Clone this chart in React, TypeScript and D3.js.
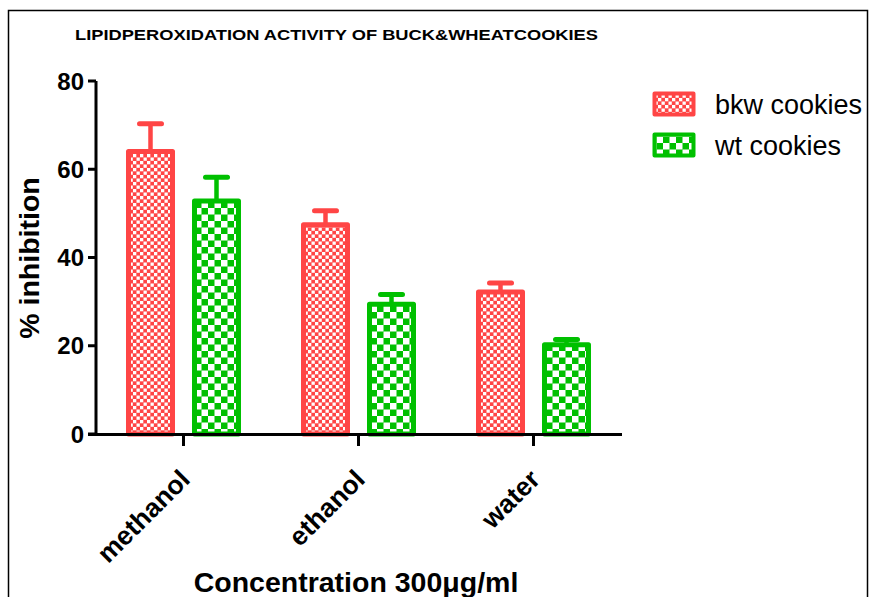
import React from "react";
import * as d3 from "d3";

const categories = ["methanol", "ethanol", "water"];
const seriesNames = ["bkw cookies", "wt cookies"];
const bkwValues = [64.0, 47.4, 32.2];
const bkwErrors = [6.3, 3.2, 2.0];
const wtValues = [52.8, 29.4, 20.2];
const wtErrors = [5.4, 2.2, 1.2];
const yTicks = [0, 20, 40, 60, 80];
const colors = ["#ff4545", "#00c000"];
const patterns = ["pRed", "pGreen"];

const FONT = "'Liberation Sans', Arial, Helvetica, sans-serif";

export default function App() {
  const x0 = d3.scaleBand<string>().domain(categories).range([96, 621]).padding(0);
  const x1 = d3
    .scaleBand<string>()
    .domain(seriesNames)
    .range([21.5, 153.5])
    .paddingInner(1 / 3)
    .paddingOuter(1 / 6);
  const y = d3.scaleLinear().domain([0, 80]).range([434, 81]);

  const data = [
    { name: seriesNames[0], values: bkwValues, errs: bkwErrors },
    { name: seriesNames[1], values: wtValues, errs: wtErrors },
  ];

  const bw = x1.bandwidth();

  return (
    <svg
      width={869}
      height={597}
      style={{ position: "absolute", left: 0, top: 0, background: "#fff" }}
      fontFamily={FONT}
    >
      <defs>
        <pattern id="pRed" width={7} height={7} patternUnits="userSpaceOnUse">
          <rect width={7} height={7} fill={colors[0]} />
          <rect x={0} y={0} width={3.3} height={3.3} fill="#fff" />
          <rect x={3.5} y={3.5} width={3.3} height={3.3} fill="#fff" />
        </pattern>
        <pattern id="pGreen" width={13} height={13} patternUnits="userSpaceOnUse">
          <rect width={13} height={13} fill={colors[1]} />
          <rect x={0} y={0} width={6.5} height={6.5} fill="#fff" />
          <rect x={6.5} y={6.5} width={6.5} height={6.5} fill="#fff" />
        </pattern>
      </defs>
      <rect x={8.5} y={10.5} width={859} height={600} fill="none" stroke="#000" strokeWidth={1.5} />

      <text x={75} y={40} fontSize={15.5} fontWeight="bold" textLength={523} lengthAdjust="spacingAndGlyphs">
        LIPIDPEROXIDATION ACTIVITY OF BUCK&amp;WHEATCOOKIES
      </text>

      {data.map((s, si) => (
        <g key={s.name}>
          {categories.map((c, ci) => {
            const cx = (x0(c) as number) + (x1(s.name) as number) + bw / 2;
            const v = s.values[ci];
            const e = v + s.errs[ci];
            return (
              <g key={c}>
                <line
                  x1={cx}
                  x2={cx}
                  y1={y(v)}
                  y2={y(e)}
                  stroke={colors[si]}
                  strokeWidth={4.5}
                />
                <line
                  x1={cx - 11}
                  x2={cx + 11}
                  y1={y(e)}
                  y2={y(e)}
                  stroke={colors[si]}
                  strokeWidth={5}
                  strokeLinecap="round"
                />
                <rect
                  x={cx - bw / 2}
                  y={y(v)}
                  width={bw}
                  height={y(0) - y(v)}
                  fill={`url(#${patterns[si]})`}
                  stroke={colors[si]}
                  strokeWidth={5}
                  strokeLinejoin="round"
                />
              </g>
            );
          })}
        </g>
      ))}

      {/* y axis */}
      <line x1={96} x2={96} y1={y(80)} y2={y(0) + 1.5} stroke="#000" strokeWidth={3} />
      {yTicks.map((t) => (
        <g key={t}>
          <line x1={88} x2={96} y1={y(t)} y2={y(t)} stroke="#000" strokeWidth={3} />
          <text x={84} y={y(t)} dy="0.36em" textAnchor="end" fontSize={24} fontWeight="bold">
            {t}
          </text>
        </g>
      ))}
      {/* x axis */}
      <line x1={88} x2={622} y1={y(0) + 0.5} y2={y(0) + 0.5} stroke="#000" strokeWidth={3} />
      {categories.map((c) => {
        const cx = (x0(c) as number) + x0.bandwidth() / 2;
        return (
          <g key={c}>
            <line x1={cx} x2={cx} y1={434} y2={446} stroke="#000" strokeWidth={3} />
            <text
              transform={`translate(${cx + 8},${481}) rotate(-45)`}
              textAnchor="end"
              fontSize={26.5}
              fontWeight="bold"
            >
              {c}
            </text>
          </g>
        );
      })}

      <text
        transform={`translate(39,258) rotate(-90)`}
        textAnchor="middle"
        fontSize={28.5}
        fontWeight="bold"
      >
        % inhibition
      </text>
      <text x={356} y={592} textAnchor="middle" fontSize={28.5} fontWeight="bold">
        Concentration 300μg/ml
      </text>

      {/* legend */}
      {seriesNames.map((n, i) => (
        <g key={n}>
          <rect
            x={654.5}
            y={93.5 + i * 41}
            width={39}
            height={21}
            fill={`url(#${patterns[i]})`}
            stroke={colors[i]}
            strokeWidth={4}
            strokeLinejoin="round"
          />
          <text x={715} y={114 + i * 41} fontSize={27}>
            {n}
          </text>
        </g>
      ))}
    </svg>
  );
}
